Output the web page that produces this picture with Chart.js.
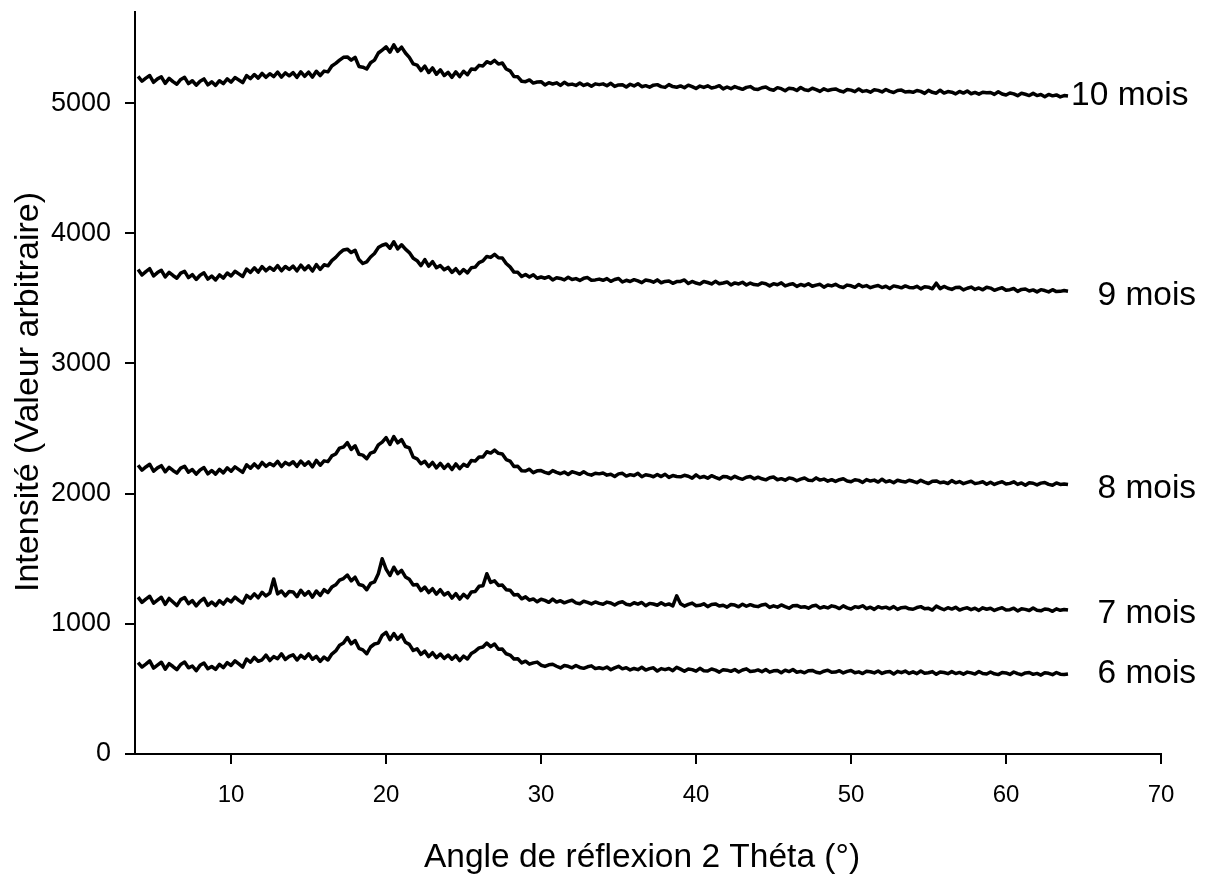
<!DOCTYPE html>
<html>
<head>
<meta charset="utf-8">
<script src="https://cdn.jsdelivr.net/npm/chart.js@4.4.1/dist/chart.umd.min.js"></script>
<style>
  html, body { margin: 0; padding: 0; background: #fff; }
  canvas { display: block; }
</style>
</head>
<body>
<canvas id="c" width="1206" height="877"></canvas>
<script>
// 2 Theta angles (degrees)
const angles = [
4,4.25,4.5,4.75,5,5.25,5.5,5.75,6,6.25,6.5,6.75,7,7.25,7.5,7.75,8,8.25,8.5,8.75,
9,9.25,9.5,9.75,10,10.25,10.5,10.75,11,11.25,11.5,11.75,12,12.25,12.5,12.75,13,13.25,13.5,13.75,
14,14.25,14.5,14.75,15,15.25,15.5,15.75,16,16.25,16.5,16.75,17,17.25,17.5,17.75,18,18.25,18.5,18.75,
19,19.25,19.5,19.75,20,20.25,20.5,20.75,21,21.25,21.5,21.75,22,22.25,22.5,22.75,23,23.25,23.5,23.75,
24,24.25,24.5,24.75,25,25.25,25.5,25.75,26,26.25,26.5,26.75,27,27.25,27.5,27.75,28,28.25,28.5,28.75,
29,29.25,29.5,29.75,30,30.25,30.5,30.75,31,31.25,31.5,31.75,32,32.25,32.5,32.75,33,33.25,33.5,33.75,
34,34.25,34.5,34.75,35,35.25,35.5,35.75,36,36.25,36.5,36.75,37,37.25,37.5,37.75,38,38.25,38.5,38.75,
39,39.25,39.5,39.75,40,40.25,40.5,40.75,41,41.25,41.5,41.75,42,42.25,42.5,42.75,43,43.25,43.5,43.75,
44,44.25,44.5,44.75,45,45.25,45.5,45.75,46,46.25,46.5,46.75,47,47.25,47.5,47.75,48,48.25,48.5,48.75,
49,49.25,49.5,49.75,50,50.25,50.5,50.75,51,51.25,51.5,51.75,52,52.25,52.5,52.75,53,53.25,53.5,53.75,
54,54.25,54.5,54.75,55,55.25,55.5,55.75,56,56.25,56.5,56.75,57,57.25,57.5,57.75,58,58.25,58.5,58.75,
59,59.25,59.5,59.75,60,60.25,60.5,60.75,61,61.25,61.5,61.75,62,62.25,62.5,62.75,63,63.25,63.5,63.75,
64];

const mois6 = [
702,668,690,715,660,683,705,652,694,672,648,688,706,662,676,640,681,699,655,672,
650,688,664,702,680,716,692,668,730,705,742,712,724,760,718,748,732,770,726,750,
762,722,758,735,770,728,750,712,745,722,768,792,835,852,895,846,872,812,800,770,
822,845,852,912,935,878,925,882,915,858,842,795,808,765,790,748,778,740,768,735,
760,728,755,718,752,730,772,790,815,822,852,825,845,805,806,770,760,730,732,700,
713,690,700,706,682,673,685,689,674,661,680,674,662,680,665,658,670,677,656,663,
655,668,647,662,674,654,663,646,657,648,666,645,656,662,637,656,648,657,640,666,
652,636,653,648,636,658,640,637,653,644,629,648,644,635,649,630,645,654,634,637,
646,632,649,629,639,642,624,644,633,649,628,635,624,640,642,628,622,636,644,628,
629,640,623,635,642,624,631,618,636,632,623,638,619,630,633,614,635,625,637,619,
631,617,638,621,624,633,612,630,626,617,633,618,627,613,629,623,614,634,618,615,
630,616,610,626,623,611,630,617,609,623,626,612,619,606,624,620,609,626,613,610,
614];

const mois7 = [
1205,1165,1190,1212,1158,1182,1204,1150,1195,1168,1140,1186,1202,1155,1178,1138,1172,1196,1142,1168,
1140,1178,1152,1190,1168,1205,1180,1160,1218,1195,1230,1200,1242,1214,1236,1345,1230,1252,1215,1248,
1245,1208,1258,1220,1248,1205,1252,1218,1262,1240,1282,1300,1335,1348,1375,1330,1358,1302,1295,1262,
1310,1322,1385,1500,1420,1372,1435,1385,1410,1360,1342,1298,1302,1255,1282,1240,1270,1228,1262,1222,
1240,1198,1232,1190,1226,1200,1245,1248,1288,1292,1385,1318,1330,1295,1298,1262,1258,1222,1225,1192,
1207,1182,1191,1169,1189,1180,1165,1190,1167,1178,1161,1172,1181,1161,1154,1173,1165,1153,1168,1157,
1151,1167,1160,1144,1162,1169,1151,1145,1162,1151,1164,1139,1157,1152,1143,1162,1144,1153,1138,1215,
1154,1136,1149,1159,1139,1142,1154,1132,1148,1153,1137,1143,1128,1148,1144,1131,1151,1135,1147,1137,
1132,1145,1150,1126,1138,1128,1145,1132,1120,1139,1141,1128,1132,1120,1137,1142,1121,1131,1122,1138,
1131,1117,1138,1123,1114,1132,1126,1139,1116,1128,1111,1132,1121,1128,1115,1132,1111,1124,1128,1115,
1112,1125,1132,1115,1119,1106,1136,1121,1108,1124,1113,1127,1106,1117,1123,1109,1120,1103,1123,1112,
1120,1103,1115,1123,1106,1109,1120,1099,1115,1111,1102,1122,1105,1100,1114,1110,1096,1115,1104,1110,
1106];

const mois8 = [
2218,2180,2205,2226,2172,2198,2215,2168,2202,2178,2158,2196,2210,2165,2185,2150,2182,2200,2152,2178,
2150,2186,2160,2198,2172,2206,2185,2164,2222,2195,2228,2198,2240,2210,2232,2215,2248,2208,2240,2222,
2245,2210,2250,2218,2244,2205,2255,2218,2252,2246,2290,2305,2350,2358,2392,2340,2368,2302,2296,2268,
2312,2322,2375,2396,2430,2378,2438,2390,2415,2362,2352,2280,2268,2230,2248,2208,2240,2198,2232,2194,
2225,2185,2228,2192,2225,2210,2255,2250,2282,2282,2322,2312,2335,2310,2305,2262,2250,2208,2210,2176,
2174,2188,2161,2175,2177,2164,2155,2177,2163,2153,2166,2147,2168,2160,2149,2168,2150,2142,2157,2152,
2158,2142,2149,2132,2152,2156,2135,2146,2139,2156,2130,2145,2140,2130,2147,2131,2149,2125,2139,2132,
2129,2141,2134,2119,2144,2123,2132,2119,2138,2125,2113,2132,2129,2115,2133,2119,2110,2126,2132,2114,
2126,2114,2106,2122,2128,2107,2115,2103,2121,2115,2099,2112,2120,2103,2100,2121,2104,2112,2096,2107,
2094,2107,2114,2097,2091,2107,2102,2086,2108,2097,2104,2089,2111,2090,2099,2084,2103,2095,2089,2103,
2095,2084,2102,2089,2078,2096,2098,2084,2089,2078,2100,2083,2093,2077,2087,2095,2077,2083,2091,2072,
2088,2071,2083,2091,2074,2079,2091,2071,2082,2065,2084,2080,2067,2081,2086,2071,2064,2082,2071,2074,
2070];

const mois9 = [
3722,3680,3706,3728,3672,3698,3716,3665,3700,3676,3655,3694,3708,3660,3682,3645,3678,3696,3648,3672,
3642,3680,3656,3695,3672,3708,3688,3668,3725,3700,3735,3702,3744,3712,3738,3716,3752,3712,3745,3722,
3748,3712,3755,3720,3750,3710,3760,3722,3758,3750,3790,3815,3848,3872,3878,3852,3870,3798,3768,3780,
3818,3845,3890,3908,3918,3885,3935,3880,3912,3878,3852,3808,3790,3752,3798,3748,3782,3735,3752,3720,
3738,3700,3728,3690,3722,3696,3735,3740,3775,3788,3822,3815,3838,3812,3810,3768,3742,3702,3700,3668,
3684,3665,3682,3655,3664,3655,3667,3642,3659,3653,3642,3662,3645,3652,3638,3654,3660,3639,3642,3648,
3639,3652,3631,3645,3653,3626,3639,3630,3644,3634,3621,3641,3636,3624,3642,3620,3630,3634,3616,3629,
3630,3642,3614,3630,3618,3610,3630,3622,3611,3631,3612,3618,3626,3603,3619,3611,3624,3603,3618,3606,
3603,3619,3612,3596,3613,3605,3619,3596,3606,3612,3592,3607,3597,3613,3593,3602,3608,3586,3603,3596,
3608,3591,3584,3602,3597,3585,3607,3590,3598,3582,3592,3599,3583,3593,3576,3596,3590,3581,3596,3584,
3581,3593,3573,3589,3586,3574,3617,3575,3592,3578,3569,3584,3586,3565,3578,3587,3569,3580,3566,3586,
3579,3562,3573,3582,3562,3567,3576,3554,3569,3572,3557,3565,3550,3567,3560,3550,3567,3552,3554,3560,
3555];

const mois10 = [
5205,5168,5192,5212,5160,5186,5202,5152,5190,5165,5145,5182,5198,5150,5172,5138,5168,5186,5140,5164,
5136,5172,5150,5186,5162,5196,5178,5158,5212,5188,5220,5192,5228,5198,5226,5204,5238,5200,5232,5210,
5234,5198,5240,5206,5238,5200,5245,5212,5246,5240,5285,5305,5330,5352,5355,5330,5352,5282,5276,5262,
5310,5330,5385,5408,5432,5392,5448,5398,5430,5385,5352,5302,5292,5250,5285,5235,5270,5222,5256,5212,
5236,5198,5240,5204,5245,5218,5262,5258,5290,5286,5318,5305,5328,5300,5308,5262,5248,5205,5202,5168,
5165,5178,5154,5162,5165,5140,5157,5147,5156,5136,5160,5141,5146,5136,5154,5136,5147,5129,5148,5142,
5148,5133,5152,5128,5140,5142,5124,5145,5132,5149,5126,5134,5122,5138,5142,5127,5121,5142,5127,5122,
5132,5118,5138,5127,5112,5131,5121,5133,5116,5123,5134,5109,5124,5111,5127,5116,5106,5121,5127,5109,
5105,5118,5124,5106,5099,5119,5111,5095,5115,5111,5097,5120,5102,5097,5114,5104,5090,5110,5097,5105,
5109,5095,5086,5105,5100,5088,5109,5090,5096,5084,5102,5098,5086,5105,5090,5082,5097,5100,5085,5089,
5083,5097,5090,5075,5098,5083,5076,5099,5077,5089,5084,5071,5090,5077,5093,5072,5082,5069,5084,5080,
5082,5067,5087,5070,5062,5078,5071,5057,5076,5068,5058,5075,5058,5066,5049,5067,5056,5063,5048,5058,
5054];

const seriesNames = ['6 mois', '7 mois', '8 mois', '9 mois', '10 mois'];
const seriesValues = [mois6, mois7, mois8, mois9, mois10];
// label anchors in data units (angle of left edge, intensity of text centre)
const labelAngle = [65.9, 65.9, 65.9, 65.9, 64.2];
const labelIntensity = [638, 1100, 2062, 3538, 5077];

const xTickValues = [10, 20, 30, 40, 50, 60, 70];
const yTickValues = [0, 1000, 2000, 3000, 4000, 5000];

const xTitle = 'Angle de réflexion 2 Théta (°)';
const yTitle = 'Intensité (Valeur arbitraire)';
const FONT = '"Liberation Sans", Arial, Helvetica, sans-serif';

const datasets = seriesValues.map((vals, k) => ({
  label: seriesNames[k],
  data: angles.map((a, i) => ({ x: a, y: vals[i] })),
  borderColor: '#000',
  borderWidth: 3.5,
  borderJoinStyle: 'round',
  pointRadius: 0,
  tension: 0,
  fill: false
}));

const textPlugin = {
  id: 'texts',
  afterDraw(chart) {
    const ctx = chart.ctx;
    const xs = chart.scales.x, ys = chart.scales.y;
    ctx.save();
    ctx.fillStyle = '#000';
    const lblSize = 33.5;
    ctx.font = lblSize + 'px ' + FONT;
    ctx.textAlign = 'left';
    ctx.textBaseline = 'alphabetic';
    seriesNames.forEach((n, k) => {
      ctx.fillText(n, xs.getPixelForValue(labelAngle[k]),
                   ys.getPixelForValue(labelIntensity[k]) + 0.358 * lblSize);
    });
    // x axis title
    ctx.textAlign = 'center';
    ctx.textBaseline = 'middle';
    ctx.fillText(xTitle, 642, 858);
    // y axis title
    ctx.font = '34px ' + FONT;
    ctx.translate(29, 392);
    ctx.rotate(-Math.PI / 2);
    ctx.fillText(yTitle, 0, 0);
    ctx.restore();
  }
};

new Chart(document.getElementById('c'), {
  type: 'line',
  data: { datasets },
  plugins: [textPlugin],
  options: {
    responsive: false,
    animation: false,
    devicePixelRatio: 1,
    layout: { padding: { left: 0, right: 45, top: 12, bottom: 0 } },
    plugins: { legend: { display: false }, tooltip: { enabled: false } },
    scales: {
      x: {
        type: 'linear',
        min: 3.8,
        max: 70,
        afterBuildTicks(s) { s.ticks = xTickValues.map(v => ({ value: v })); },
        afterFit(s) { s.height = 123; s.paddingLeft = 0; s.paddingRight = 0; },
        ticks: { color: '#000', padding: 17, maxRotation: 0, autoSkip: false,
                 callback: v => String(v),
                 font: { size: 24, family: FONT } },
        grid: { drawOnChartArea: false, drawTicks: true, tickLength: 10, color: '#000', lineWidth: 2 },
        border: { color: '#000', width: 2 }
      },
      y: {
        min: 0,
        max: 5700,
        afterBuildTicks(s) { s.ticks = yTickValues.map(v => ({ value: v })); },
        afterFit(s) { s.width = 135; s.paddingTop = 0; s.paddingBottom = 0; },
        ticks: { color: '#000', padding: 14, autoSkip: false,
                 callback: v => String(v),
                 font: { size: 27, family: FONT } },
        grid: { drawOnChartArea: false, drawTicks: true, tickLength: 10, color: '#000', lineWidth: 2 },
        border: { color: '#000', width: 2 }
      }
    }
  }
});
</script>
</body>
</html>
